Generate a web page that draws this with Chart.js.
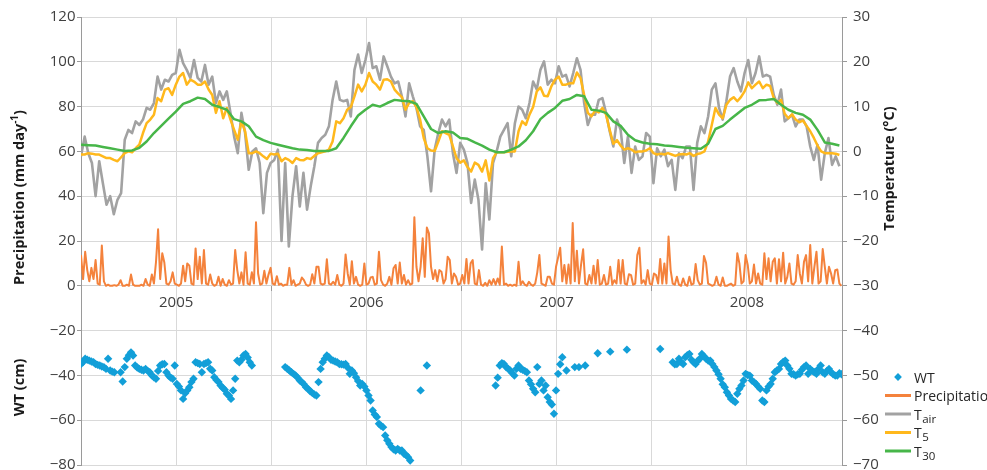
<!DOCTYPE html>
<html><head><meta charset="utf-8">
<script src="https://cdn.jsdelivr.net/npm/chart.js@4.4.1/dist/chart.umd.min.js"></script>
<style>html,body{margin:0;padding:0;background:#fff;}canvas{display:block;}</style>
</head><body>
<canvas id="c" width="987" height="470"></canvas>
<script>
// ---------------- data ----------------
const yearLabels = ['2005', '2006', '2007', '2008'];
const startYear = 2005;

// daily precipitation (mm day-1), sampled every 4 days from 1 Jan 2005
const precipStepDays = 4;
const precip = [
13.7,3,15.2,7,2,8,3,11.5,1,0.5,
18,2,0,0.5,0,0,0.3,0,0.5,2.5,
0,0,0.5,0,5,0.5,0,0,0,0.5,
0,3,0.5,0,5,1,10.7,25.2,3,14.5,
10.4,1,0.5,2,6,1,0.5,0,1,9,
2,10,9,1,0.5,16.7,3,13,1,16,
1,0.5,5,1,0,0.5,4,0,3,0.5,
0,2.5,0.5,1,16,7,1,6,0.5,15,
1,0.5,6,1,28.4,5.5,0.5,1,6.7,1,
5,8,1,0.5,4.3,0.5,1,0,0.5,0.5,
8,0.5,2.5,0,0.5,1,3.7,2.5,0.5,0,
0.5,5.2,1,8.5,8.5,1,0.5,1,11.8,1,
0.5,1.8,0.5,4.8,0.5,0,1,14,5.5,0.5,
11,1,4,0.5,0,0.5,10,0.5,1,3.7,
4,0.5,1,15.2,2.5,0.5,0,1,4,0.5,
7.8,9.3,1,10.4,1,4.8,0.5,2.5,0.5,1,
30.6,8.5,2,8.5,21.2,4,26,23.4,8.5,3,
7,2,7,6.3,1,3,13,11.5,1,5.5,
4,0.5,1,4.8,1,12,1,10,11.5,1,
0.5,7,0.5,0,1.3,0,2.5,0.5,3,0.5,
3.3,0.5,17.5,0.5,1,0,0.5,0,0.5,0,
10.7,0.5,2,0.5,0,1.8,0.5,0,1,6,
13.7,1,0.5,0,4,4,1,0.5,8.5,12.7,
17,2,9.3,1,9.5,1,28,2,15.7,1,
9.3,16.3,1,0.5,4.8,1,9,1,11.5,0.5,
1,4.8,0.5,1,8.5,0.5,2.5,1,11.5,1,
11.5,1,0.5,5.2,4.8,0.5,1,13.7,17,1,
2.5,0.5,7,1,0.5,5.5,4.8,1,12,1,
10,1,22,7,1,0.5,4,0.5,0,3.3,
0.5,0,4,0.5,1,9.7,2.5,0.5,1,13.3,
10.3,1,0.5,0,0.5,4,0.5,0,3.7,0,
0,0.5,1,0,0.5,14.5,10,1,2,13.7,
9.3,1,2,9.5,1,5.5,1,0.5,14.5,3,
12.3,2,10.7,12.3,1,11.8,2,14.8,1,4,
10,1,0.5,2,13.7,5.5,1,10.7,13.7,2,
18.2,1,8.5,15.2,1,2,16.4,8.5,1,8.5,
5.5,1,7,7.3,1,0
];

// water table (cm), same 4-day grid, null = no measurement
const wtStepDays = 4;
const wt = [
-34.9,-34,-32.6,-33,-33.4,-33.8,-34.1,-34.9,-35.3,-35.6,
-36,-36.3,-37.1,-32.6,-37.8,-38.3,-38.6,null,null,-38.6,
-42.7,-36.3,-32.6,-31,-29.7,-31.1,-35.6,-36.5,-37.1,-37.5,
-37.8,-37.1,-38,-38.6,-40,-40.8,-41.5,-38,-35.6,-35,
-34.9,-38.6,-40.1,-41,-41.5,-35.6,-43.8,-45,-46.7,-50.5,
-48,-46.7,-45.3,-43,-41.5,-34.1,-34.5,-34.9,-38.6,-34.9,
-34.5,-34.1,-37,-37.8,-40.8,-42,-43,-44.5,-45.5,-46.4,
-48.2,-49,-50.5,-46.7,-41.5,-33.4,-34.1,-33,-31.1,-30.4,
-32,-34.1,-35.6,null,null,null,null,null,null,null,
null,null,null,null,null,null,null,null,-36.3,-37,
-37.8,-38.6,-39.3,-40,-41,-42.3,-43,-44,-45.3,-46,
-47.1,-47.8,-48.5,-49,-43,-37.1,-34.1,-32.6,-31.1,-31.9,
-33,-33.4,-33.8,-34.1,-34.9,-35,-35.2,-34.9,-36.5,-39.3,
-37.8,-39,-40.8,-42.5,-44.5,-43.8,-45,-46.7,-49,-51.2,
-55.7,-57.5,-58.6,-61.6,-62.5,-63.1,-66.8,-69,-70.5,-72,
-73,-73.5,-72.8,-73.5,-73.5,-75,-75.5,-76.5,-78,null,
null,null,null,-46.7,null,null,-35.6,null,null,null,
null,null,null,null,null,null,null,null,null,null,
null,null,null,null,null,null,null,null,null,null,
null,null,null,null,null,null,null,null,null,-44.5,
-41,-35.6,-34.5,-34.9,-36.3,-37,-37.8,-39,-40.1,-37,
-35.6,-37.1,-37.5,-38,-38.6,-42.3,-44,-46,-47.5,-36.3,
-43.8,-42.3,-46.7,-44.5,-49.7,-51.9,-53,-57.1,-46.7,-39.3,
-35,-31.9,null,-37.8,null,null,null,-36.3,null,-36.3,
null,null,-35.6,null,null,null,null,null,-30.1,null,
null,null,null,null,-29.4,null,null,null,null,null,
null,null,-28.5,null,null,null,null,null,null,null,
null,null,null,null,null,null,null,null,-28.2,null,
null,null,null,null,-34.1,-35,-34.9,-32.6,-34,-34.9,
-31.9,-31,-30.4,-33,-34.1,-34.9,-33.5,-32.6,-30.4,-31.5,
-32.6,-33.4,-33.4,-34.9,-36.3,-37.8,-39.5,-41.5,-44,-45.3,
-47.5,-49,-50.5,-51.2,-51.9,-48.2,-46,-44.5,-42.3,-39.3,
-39.8,-40.1,-42.3,-43,-43.8,-45,-46,-51.2,-51.9,-46.7,
-45,-43.8,-41.5,-38.6,-37.8,-37.1,-34.9,-34,-33.4,-35.6,
-37,-39.3,-39.5,-40.1,-39.5,-39.3,-37.5,-36.3,-35.6,-39.3,
-37.1,-38,-38.6,-39.3,-37,-35.6,-38.6,-39.3,-38,-37.1,
-38.6,-39.5,-40.1,-40.1,-39,-39.5
];

// air and soil temperatures (°C), weekly from 1 Jan 2005
const tempStepDays = 7;
const tAir = [
-1.1,3.3,-0.4,-2.6,-10,-2.2,-7.1,-11.9,-10,-14,
-10.8,-9.3,2.6,4.8,4.1,6.7,5.9,7.1,9.7,9.3,
10.8,16.7,13.8,16,15.6,17.1,17.5,22.7,19.7,18.2,
16.4,20.4,16.4,15.6,19.3,14.9,16.7,10.8,13.4,11.5,
13.4,8.6,3.3,-0.4,8.6,4.1,-4.1,0,0.7,-2.6,
-13.8,-4.8,-2.6,-1.9,0.4,-20,-2.6,-21.2,-10,-3.3,
-12.3,-4.8,-13,-7.8,-3.3,1.9,3,3.7,5.6,11.5,
15.6,11.5,11.2,11.5,7.8,18.2,21.6,17.5,20.4,24.2,
18.6,19,16,21.2,19,16.7,15.2,15.6,12.3,7.8,
15.2,12.3,9.7,5.6,4.8,-1.1,-8.9,0.4,4.1,7.1,
5.6,7.1,-0.4,-4.8,1.9,0.4,-2.6,-11.5,-6.3,-10.8,
-21.9,-7.1,-15.2,-2.6,0,3.3,4.8,6.3,-1.1,6.3,
10,9.3,7.4,10.8,15.6,13.8,18.2,20.1,14.9,16,
15.2,19,16.7,17.1,14.5,17.5,20.8,18.2,10.8,5.9,
8.2,8.2,11.5,11.9,8.6,4.5,1.1,7.1,4.8,-2.6,
3.3,-4.8,1.1,-1.9,-1.1,4.1,3.3,-7.1,0.7,-1.1,
0.4,-3.3,-1.9,-8.6,-0.4,-1.5,1.1,1.1,-8.6,1.9,
5.6,4.1,7.8,13.8,15.2,9.7,7.1,11.2,16.7,18.6,
15.6,13.4,17.5,20.4,15.2,17.5,21.2,16.7,17.1,16.7,
12.6,10.4,13.8,6.7,7.4,8.2,5.6,7.1,7.1,5.6,
1.1,-1.9,1.5,-6.3,-0.4,3,-3,-1.1,-3.3
];
const t5 = [
-0.7,-0.7,-0.4,-0.5,-0.7,-0.7,-1.1,-1.5,-1.5,-1.9,
-2.2,-1.3,-0.4,0,-0.2,0.7,1.5,4.1,6.3,7.1,
8.2,11.9,11.2,13.8,14.1,12.6,14.9,16.7,17.5,14.9,
16,15.6,14.9,14.9,15.6,13.8,12.6,8.6,11.2,7.4,
9.7,7.1,4.8,2.6,6.7,4.5,-0.4,-0.4,0,-0.4,
-1.1,-1.7,-0.5,-0.7,-0.5,-2.2,-1.5,-1.9,-2.6,-1.5,
-1.9,-2,-1.5,-1.7,-1,-0.4,-0.2,0,0.4,2.2,
6.7,6.3,7.4,9.3,9.9,12.3,14.9,13.4,14.9,17.5,
15.6,14.9,13.8,16,16.1,15.6,13.8,12.9,12.1,9.3,
10.8,11.2,9.9,7.1,3,0.7,0.2,0.1,2.2,4.5,
4.1,3.7,1.1,-1.5,-2.5,-2,-3.5,-4.5,-2.5,-3,
-4.5,-2,-6.5,-1.5,-0.2,-0.2,-0.2,-0.1,0,0,
4.5,6.7,5.9,8.2,9.9,13.4,14.3,12.4,12.3,14.5,
16,16.7,14.9,14.9,15.2,15.2,17.6,16.4,12.6,8.6,
7.8,9.1,8.7,9.7,8.2,4.8,1.7,2.5,1.3,0.4,
0.7,0.4,-0.2,0,0,0.2,0.7,-0.4,-0.7,-0.5,
-0.7,-0.4,-0.7,-1,-0.7,-0.6,-0.7,-0.4,-1,-0.6,
-0.4,0,2.2,5.9,9.7,8.2,7.4,10.4,11.5,12.1,
11.2,12.1,13.4,15.4,14.1,14.9,15.6,14.1,14.9,14.6,
11.9,10.8,11.5,8.4,7.4,8.3,7.1,6.5,6.9,5.7,
4.5,3,1.3,0,-0.4,-0.4,-0.4,-0.5,-0.8
];
// 30 cm soil temperature, every 14 days
const t30StepDays = 14;
const t30 = [
1.5,1.4,1.3,1,0.7,0.4,0.1,0.2,0.8,2.2,
4.1,5.7,7.3,8.9,10.6,11.2,12,11.7,10.4,9.9,
9.3,7.2,6.7,5.6,3.3,2.5,1.9,1.5,1.1,0.7,
0.4,0.3,0.1,0.1,0.1,0.7,3,5.6,8,9.3,
10.4,10,10.8,11.5,11.3,11.2,10.6,7.8,5,4.1,
4.5,4.2,3,2.8,2,1.3,0.4,-0.2,-0.2,0.4,
1.1,2.5,4.5,7.2,8.6,9.7,11.3,11.7,12.6,12.3,
9.3,9.1,8.6,6.7,5.7,3.7,2.5,2,1.7,1.6,
1.3,1.2,1,0.8,0.7,0.6,1.7,5,5.7,7.1,
8.4,9.7,10.4,11.4,11.5,11.7,10.4,9.3,8.6,8.2,
7.1,4.8,2,1.7,1.3
];

// ---------------- styling ----------------
const C_WT = '#129fd8', C_P = '#f4823c', C_AIR = '#a2a2a2', C_T5 = '#ffb81c', C_T30 = '#47b649';
const FONT = "'Open Sans', sans-serif";
const TICK_COLOR = '#404040', GRID = '#d9d9d9', AXIS = '#9a9a9a';

function series(values, stepDays) {
  return values.map((v, i) => ({ x: startYear + i * stepDays / 365.25, y: v }));
}

const minus = v => (v < 0 ? '\u2212' + Math.abs(v) : String(v));

// axis titles (with superscript) drawn as rotated text
function drawRotated(ctx, baseX, cy, parts) {
  ctx.save();
  ctx.translate(baseX, cy);
  ctx.rotate(-Math.PI / 2);
  ctx.textBaseline = 'alphabetic';
  ctx.textAlign = 'left';
  let total = 0;
  parts.forEach(p => { ctx.font = p.font; p.w = ctx.measureText(p.t).width; total += p.w; });
  let x = -total / 2;
  parts.forEach(p => { ctx.font = p.font; ctx.fillText(p.t, x, p.dy || 0); x += p.w; });
  ctx.restore();
}
const titlePlugin = {
  id: 'axisTitles',
  afterDraw(chart) {
    const ctx = chart.ctx;
    const bold = "bold 14.5px " + FONT, sup = "bold 10px " + FONT;
    ctx.save();
    ctx.fillStyle = '#1a1a1a';
    drawRotated(ctx, 24, 197.5, [
      { t: 'Precipitation (mm day', font: bold },
      { t: '-1', font: sup, dy: -6 },
      { t: ')', font: bold }
    ]);
    drawRotated(ctx, 24, 387.5, [{ t: 'WT (cm)', font: bold }]);
    drawRotated(ctx, 893.5, 168.5, [{ t: 'Temperature (\u00B0C)', font: bold }]);
    ctx.restore();
  }
};

// legend with real subscripts (label "T_air" -> T + subscript "air")
const legendPlugin = {
  id: 'subLegend',
  afterDraw(chart) {
    const ctx = chart.ctx;
    const x0 = 885, x1 = 911, tx = 914;
    ctx.save();
    chart.data.datasets.forEach((ds, i) => {
      const sy = 377 + i * 18.5;
      const base = sy + 5.5;
      if (ds.showLine) {
        ctx.strokeStyle = ds.borderColor; ctx.lineWidth = 3; ctx.lineCap = 'butt';
        ctx.beginPath(); ctx.moveTo(x0, sy); ctx.lineTo(x1, sy); ctx.stroke();
      } else {
        const r = 3.9, cx = (x0 + x1) / 2;
        ctx.fillStyle = ds.backgroundColor;
        ctx.beginPath(); ctx.moveTo(cx - r, sy); ctx.lineTo(cx, sy - r); ctx.lineTo(cx + r, sy); ctx.lineTo(cx, sy + r);
        ctx.closePath(); ctx.fill();
      }
      const [main, sub] = ds.label.split('_');
      ctx.fillStyle = '#262626';
      ctx.textBaseline = 'alphabetic'; ctx.textAlign = 'left';
      ctx.font = '14px ' + FONT;
      ctx.fillText(main, tx, base);
      if (sub) {
        const w = ctx.measureText(main).width;
        ctx.font = '11.5px ' + FONT;
        ctx.fillText(sub, tx + w + 0.5, base + 3);
      }
    });
    ctx.restore();
  }
};

const lineDs = (label, values, step, color, width, order) => ({
  label, data: series(values, step), yAxisID: 'y2', showLine: true,
  borderColor: color, backgroundColor: color, borderWidth: width,
  pointRadius: 0, tension: 0, borderJoinStyle: 'round', order
});

new Chart(document.getElementById('c'), {
  type: 'scatter',
  data: {
    datasets: [
      { label: 'WT', data: series(wt, wtStepDays), yAxisID: 'y', showLine: false,
        pointStyle: 'rectRot', pointRadius: 4.2, backgroundColor: C_WT, borderColor: C_WT,
        borderWidth: 0, order: 0 },
      { label: 'Precipitation', data: series(precip, precipStepDays), yAxisID: 'y', showLine: true,
        borderColor: C_P, backgroundColor: C_P, borderWidth: 2, pointRadius: 0, tension: 0,
        borderJoinStyle: 'round', order: 3 },
      lineDs('T_air', tAir, tempStepDays, C_AIR, 2.6, 4),
      lineDs('T_5', t5, tempStepDays, C_T5, 2.5, 2),
      lineDs('T_30', t30, t30StepDays, C_T30, 2.5, 1)
    ]
  },
  options: {
    responsive: false, animation: false, devicePixelRatio: 1, events: [],
    layout: { padding: { left: 0, right: 108, top: 17, bottom: 5 } },
    font: { family: FONT },
    scales: {
      x: {
        type: 'linear', position: { y: 0 }, min: 2005, max: 2009,
        afterFit: s => { s.paddingLeft = 0; s.paddingRight = 0; },
        ticks: {
          stepSize: 0.5, autoSkip: false, maxRotation: 0, padding: 3,
          color: TICK_COLOR, font: { family: FONT, size: 15 },
          callback: v => {
            const f = Math.floor(v + 1e-6);
            return Math.abs(v - f - 0.5) < 1e-6 ? yearLabels[f - startYear] : '';
          }
        },
        grid: {
          color: GRID, lineWidth: 1, drawTicks: true, tickLength: 5,
          tickColor: c => (c.tick && Math.abs(c.tick.value - Math.round(c.tick.value)) < 1e-6) ? AXIS : 'rgba(0,0,0,0)'
        },
        border: { display: true, color: '#cfcfcf' }
      },
      y: {
        position: 'left', min: -80, max: 120,
        afterFit: s => { s.width = 81; s.paddingTop = 0; s.paddingBottom = 0; },
        ticks: { stepSize: 20, padding: 1.5, color: TICK_COLOR, font: { family: FONT, size: 15 }, callback: minus },
        grid: { color: GRID, lineWidth: 1, tickLength: 4, tickColor: AXIS },
        border: { color: AXIS }
      },
      y2: {
        position: 'right', min: -70, max: 30,
        afterFit: s => { s.width = 37; s.paddingTop = 0; s.paddingBottom = 0; },
        ticks: { stepSize: 10, padding: 6, color: TICK_COLOR, font: { family: FONT, size: 15 }, callback: minus },
        grid: { drawOnChartArea: false, tickLength: 5, tickColor: AXIS },
        border: { color: AXIS }
      }
    },
    plugins: {
      tooltip: { enabled: false },
      legend: { display: false }
    }
  },
  plugins: [titlePlugin, legendPlugin]
});
</script>
</body></html>
